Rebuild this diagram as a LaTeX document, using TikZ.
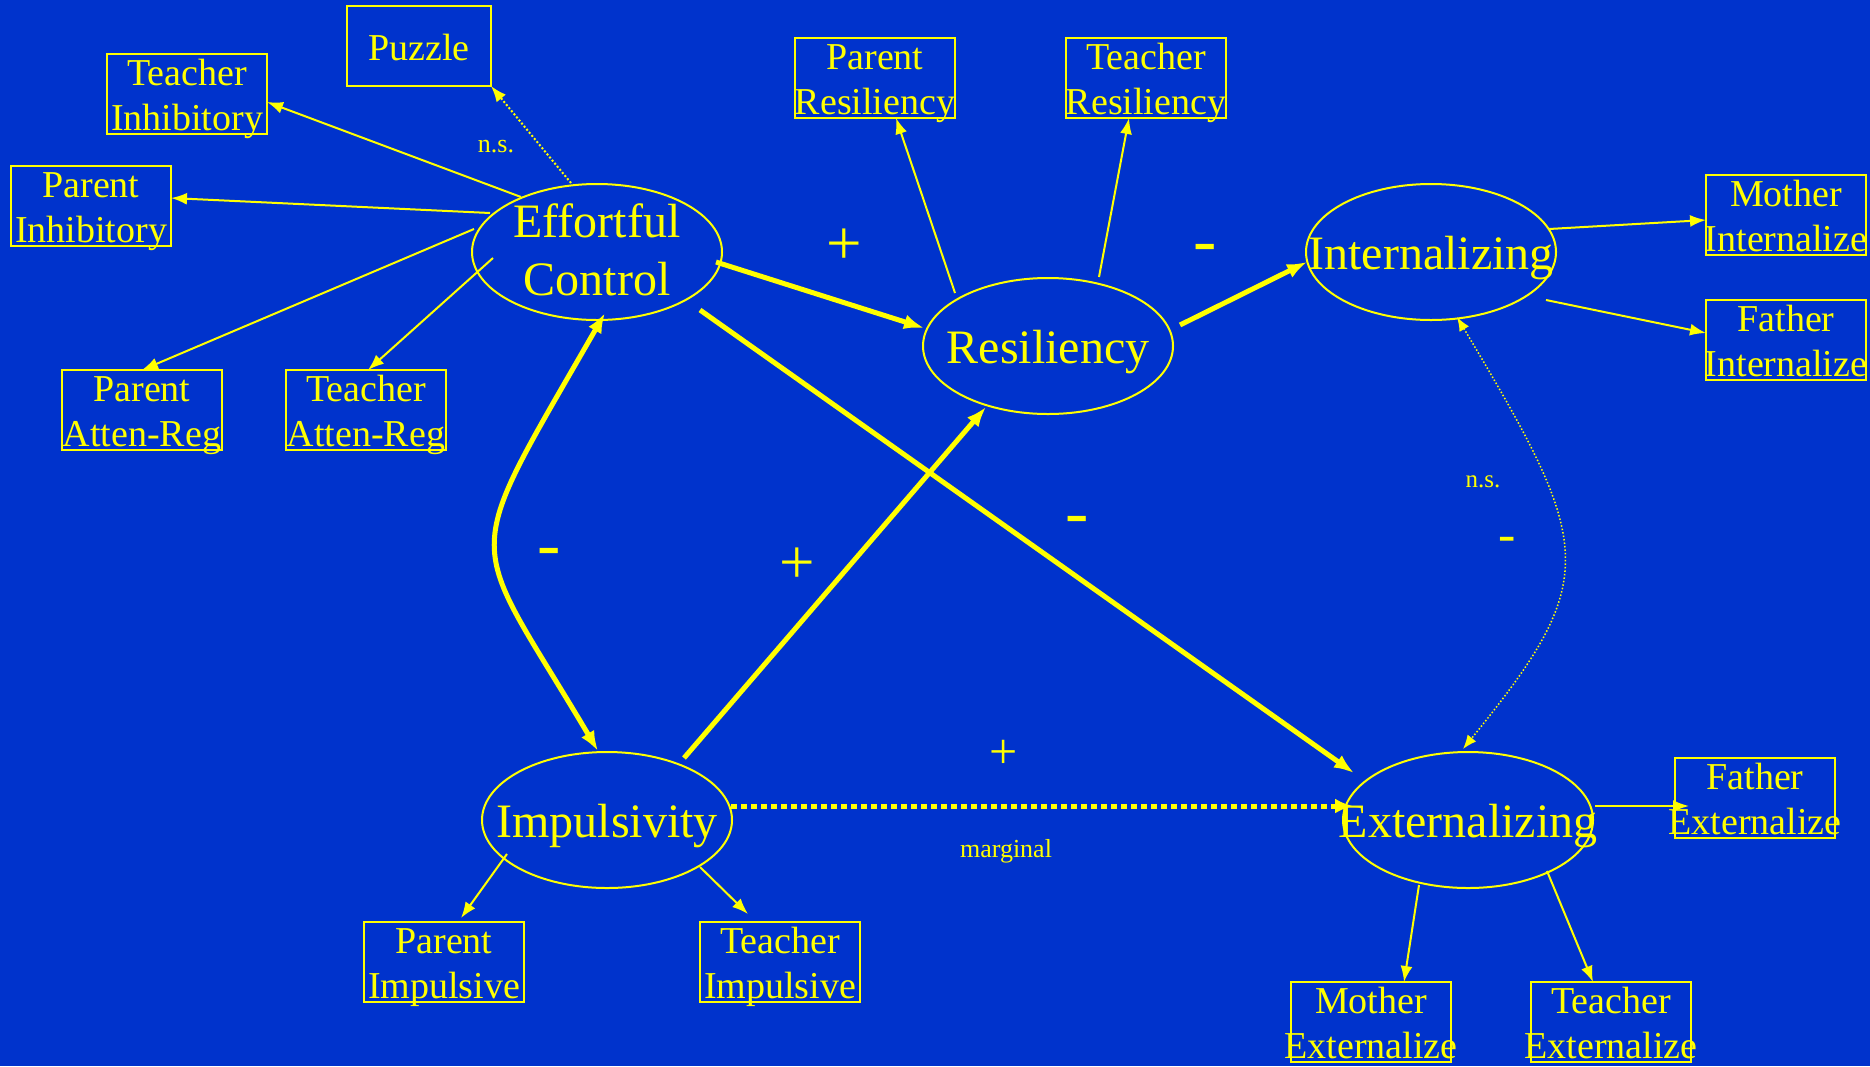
\documentclass[tikz,border=0pt]{standalone}
\usepackage{fontspec}
\setmainfont{Liberation Serif}
\usetikzlibrary{shapes.geometric,arrows.meta,calc}
\definecolor{bgblue}{RGB}{0,51,204}
\definecolor{ylw}{RGB}{255,255,0}
\newcommand\onel[2]{\makebox[0pt]{\raisebox{-#1}[0pt][0pt]{#2}}}
\newcommand\twol[4]{\makebox[0pt]{\raisebox{#1}[0pt][0pt]{#3}}\makebox[0pt]{\raisebox{-#2}[0pt][0pt]{#4}}}
\begin{document}
\begin{tikzpicture}[x=1pt,y=-1pt,
  lat/.style={ellipse, draw=ylw, line width=2pt, minimum width=250pt, minimum height=136pt,
    inner sep=0pt, outer sep=0pt, text height=0pt, text depth=0pt, text=ylw,
    font=\fontsize{48}{56}\selectfont},
  obs/.style={rectangle, draw=ylw, line width=2pt, minimum width=160pt, minimum height=80pt,
    inner sep=0pt, outer sep=0pt, text height=0pt, text depth=0pt, text=ylw,
    font=\fontsize{38}{45}\selectfont},
  lnthin/.style={draw=ylw, line width=2pt, -{Latex[length=16pt,width=12pt]}},
  lnthick/.style={draw=ylw, line width=5pt, -{Latex[length=20pt,width=15pt]}},
  lbl/.style={text=ylw, inner sep=0pt, outer sep=0pt}
]
\fill[bgblue] (0,0) rectangle (1870,1066);
\useasboundingbox (0,0) rectangle (1870,1066);

% latent variables
\node[lat] (ec)  at (597,252)  {\twol{15pt}{43pt}{Effortful}{Control}};
\node[lat] (res) at (1048,346) {\onel{17pt}{Resiliency}};
\node[lat] (int) at (1431,252) {\onel{17pt}{Internalizing}};
\node[lat] (imp) at (607,820)  {\onel{17pt}{Impulsivity}};
\node[lat] (ext) at (1468,820) {\onel{17pt}{Externalizing}};

% indicators
\node[obs, minimum width=144pt] (puz) at (419,46) {\onel{14pt}{Puzzle}};
\node[obs] (ti)   at (187,94)   {\twol{9pt}{36pt}{Teacher}{Inhibitory}};
\node[obs] (pinh) at (91,206)   {\twol{9pt}{36pt}{Parent}{Inhibitory}};
\node[obs] (pa)   at (142,410)  {\twol{9pt}{36pt}{Parent}{Atten-Reg}};
\node[obs] (ta)   at (366,410)  {\twol{9pt}{36pt}{Teacher}{Atten-Reg}};
\node[obs] (pres) at (875,78)   {\twol{9pt}{36pt}{Parent}{Resiliency}};
\node[obs] (tres) at (1146,78)  {\twol{9pt}{36pt}{Teacher}{Resiliency}};
\node[obs] (mi)   at (1786,215) {\twol{9pt}{36pt}{Mother}{Internalize}};
\node[obs] (fi)   at (1786,340) {\twol{9pt}{36pt}{Father}{Internalize}};
\node[obs] (pimp) at (444,962)  {\twol{9pt}{36pt}{Parent}{Impulsive}};
\node[obs] (timp) at (780,962)  {\twol{9pt}{36pt}{Teacher}{Impulsive}};
\node[obs] (fe)   at (1755,798) {\twol{9pt}{36pt}{Father}{Externalize}};
\node[obs] (me)   at (1371,1022){\twol{9pt}{36pt}{Mother}{Externalize}};
\node[obs] (te)   at (1611,1022){\twol{9pt}{36pt}{Teacher}{Externalize}};

% measurement arrows
\draw[lnthin, dotted] ($(ec)+(-26,-69)$) -- (puz.south east);
\draw[lnthin] ($(ec)+(-76,-55)$) -- ($(ti.east)+(0,8)$);
\draw[lnthin] ($(ec)+(-107,-39)$) -- ($(pinh.east)+(0,-8)$);
\draw[lnthin] ($(ec)+(-123,-23)$) -- (pa.north);
\draw[lnthin] ($(ec)+(-104,6)$) -- ($(ta.north)+(2,0)$);
\draw[lnthin] ($(res)+(-93,-53)$) -- ($(pres.south)+(21,0)$);
\draw[lnthin] ($(res)+(51,-69)$) -- ($(tres.south)+(-17,0)$);
\draw[lnthin] ($(int)+(118,-23)$) -- ($(mi.west)+(0,5)$);
\draw[lnthin] ($(int)+(115,48)$) -- ($(fi.west)+(0,-7)$);
\draw[lnthin] ($(imp)+(-100,34)$) -- ($(pimp.north)+(17,-4)$);
\draw[lnthin] ($(imp)+(93,47)$) -- ($(timp.north)+(-32,-8)$);
\draw[lnthin] ($(ext)+(127,-14)$) -- ($(fe.west)+(14,8)$);
\draw[lnthin] ($(ext)+(-49,65)$) -- ($(me.north)+(33,0)$);
\draw[lnthin] ($(ext)+(79,51)$) -- ($(te.north)+(-18,0)$);

% structural paths
\draw[lnthick] ($(ec)+(119,10)$) -- ($(res)+(-124,-18)$);
\draw[lnthick] ($(res)+(132,-21)$) -- ($(int)+(-124,10)$);
\draw[lnthick] ($(ec)+(103,58)$) -- ($(ext)+(-114,-47)$);
\draw[lnthick] ($(imp)+(77,-62)$) -- ($(res)+(-62,61)$);
\draw[draw=ylw, line width=5pt, {Latex[length=20pt,width=15pt]}-{Latex[length=20pt,width=15pt]}]
  ($(ec)+(8,61)$) .. controls (457,571) and (466,528) .. ($(imp)+(-9,-69)$);
\draw[draw=ylw, line width=5pt, dash pattern=on 6pt off 4pt, -{Latex[length=18pt,width=15pt]}]
  ($(imp)+(124,-14)$) -- ($(ext)+(-115,-14)$);
\draw[draw=ylw, line width=1.5pt, dotted, {Latex[length=14pt,width=11pt]}-{Latex[length=14pt,width=11pt]}]
  ($(int)+(26,65)$) .. controls (1594,547) and (1602,577) .. ($(ext)+(-5,-71)$);

% labels
\node[lbl, font=\fontsize{26}{30}\selectfont] (ns1) at (496,147) {n.s.};
\node[lbl, font=\fontsize{25}{30}\selectfont] (ns2) at (1483,482) {n.s.};
\node[lbl, font=\fontsize{26}{30}\selectfont] (marg) at (1006,851) {marginal};
\node[lbl, font=\fontsize{63}{70}\selectfont] (p1) at (844,247) {+};
\node[lbl, font=\fontsize{63}{70}\selectfont] (p2) at (797,566) {+};
\node[lbl, font=\fontsize{50}{60}\selectfont] (p3) at (1004,754) {+};
\node[lbl, font=\fontsize{70}{80}\selectfont] (m1) at (1205,254) {-};
\node[lbl, font=\fontsize{70}{80}\selectfont] (m2) at (549,558) {-};
\node[lbl, font=\fontsize{70}{80}\selectfont] (m3) at (1077,526) {-};
\node[lbl, font=\fontsize{52}{60}\selectfont] (m4) at (1507,544) {-};
\end{tikzpicture}
\end{document}
